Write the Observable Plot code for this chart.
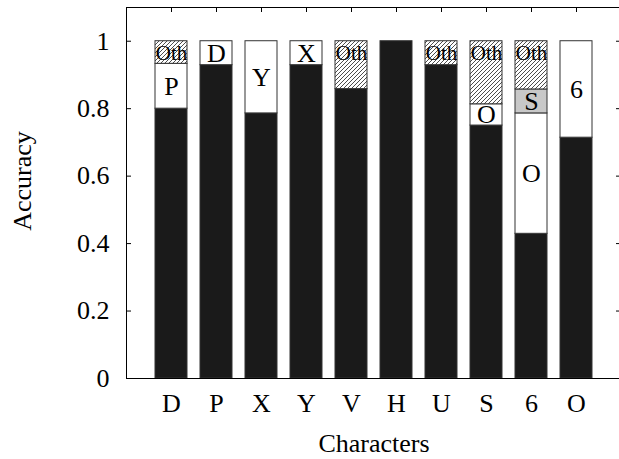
<!DOCTYPE html>
<html><head><meta charset="utf-8">
<script src="https://cdn.jsdelivr.net/npm/d3@7"></script>
<script src="https://cdn.jsdelivr.net/npm/@observablehq/plot@0.6"></script>
<style>html,body{margin:0;padding:0;background:#fff;overflow:hidden;width:619px;height:459px}</style>
</head><body><div id="chart" style="width:619px;height:459px;overflow:hidden"></div>
<script>
const chars = ["D","P","X","Y","V","H","U","S","6","O"];
const correct = [0.800,0.929,0.786,0.929,0.858,1.000,0.929,0.750,0.429,0.714];
const confChar  = ["D","D","P","X","Y","V","U","S","S","6","6","6","O"];
const confLabel = ["P","Oth","D","Y","X","Oth","Oth","O","Oth","O","S","Oth","6"];
const confValue = [0.133,0.067,0.071,0.214,0.071,0.142,0.071,0.063,0.187,0.357,0.071,0.143,0.286];
const confKind  = ["alt","other","alt","alt","alt","other","other","alt","other","alt","second","other","alt"];
const yTicks = [0,0.2,0.4,0.6,0.8,1];
const yTickLabels = ["0","0.2","0.4","0.6","0.8","1"];
const xTitle = "Characters";
const yTitle = "Accuracy";

const segs = [];
chars.forEach((c,i)=>segs.push({char:c, y1:0, y2:correct[i], kind:"correct", label:""}));
const tops = new Map(chars.map((c,i)=>[c, correct[i]]));
confChar.forEach((c,j)=>{
  const y1 = tops.get(c), y2 = y1 + confValue[j];
  tops.set(c, y2);
  segs.push({char:c, y1, y2, kind:confKind[j], label:confLabel[j]});
});
const fills = {correct:"#1a1a1a", alt:"white", second:"#c8c8c8", other:"url(#hatch)"};

const W = 623, H = 459, mL = 126, mR = 2, mT = 7, mB = 81;
const frameW = W - mL - mR, frameH = H - mT - mB;

const marks = [];
for (const k of Object.keys(fills)) {
  marks.push(Plot.barY(segs.filter(d=>d.kind===k), {x:"char", y1:"y1", y2:"y2", fill:fills[k], stroke:"#333", strokeWidth:1}));
}
marks.push(Plot.text(segs.filter(d=>d.label && d.kind!=="other"), {x:"char", y:d=>(d.y1+d.y2)/2, text:"label", fontSize:26, lineAnchor:"middle"}));
marks.push(Plot.text(segs.filter(d=>d.kind==="other"), {x:"char", y:d=>d.y2-0.035, text:"label", fontSize:21, lineAnchor:"middle"}));
marks.push(Plot.ruleY(yTicks, {y:d=>d, insetRight: frameW-5, stroke:"black"}));
marks.push(Plot.ruleY(yTicks, {y:d=>d, insetLeft: frameW-5, stroke:"black"}));
marks.push(Plot.ruleX(chars, {x:d=>d, insetBottom: frameH-5, stroke:"black"}));
marks.push(Plot.frame({stroke:"black"}));
marks.push(Plot.axisY(yTicks, {tickSize:0, tickPadding:17, tickFormat:(d)=>yTickLabels[yTicks.indexOf(d)], fontSize:26, label:null}));
marks.push(Plot.axisX({tickSize:0, tickPadding:15, fontSize:26, label:null}));
marks.push(Plot.text([xTitle], {frameAnchor:"bottom", dy:65, textAnchor:"middle", lineAnchor:"middle", fontSize:26}));
marks.push(Plot.text([yTitle], {frameAnchor:"left", dx:-104, dy:-12, rotate:-90, textAnchor:"middle", lineAnchor:"middle", fontSize:26}));

const svg = Plot.plot({
  width: W, height: H, marginLeft: mL, marginRight: mR, marginTop: mT, marginBottom: mB,
  style: {fontFamily: "'Liberation Serif', 'Times New Roman', serif", fontSize: "26px", background: "white", color: "black"},
  x: {domain: chars, paddingInner: 0.289, paddingOuter: 0.644, axis: null},
  y: {domain: [0, 1.1], axis: null},
  marks
});
svg.style.maxWidth = "none";
const defs = d3.select(svg).insert("defs", ":first-child");
const pat = defs.append("pattern").attr("id","hatch").attr("patternUnits","userSpaceOnUse").attr("width",4).attr("height",4);
pat.append("rect").attr("width",4).attr("height",4).attr("fill","white");
pat.append("path").attr("d","M-1,1 l2,-2 M0,4 l4,-4 M3,5 l2,-2").attr("stroke","#000").attr("stroke-width",0.7);
document.getElementById("chart").appendChild(svg);
</script>
</body></html>
